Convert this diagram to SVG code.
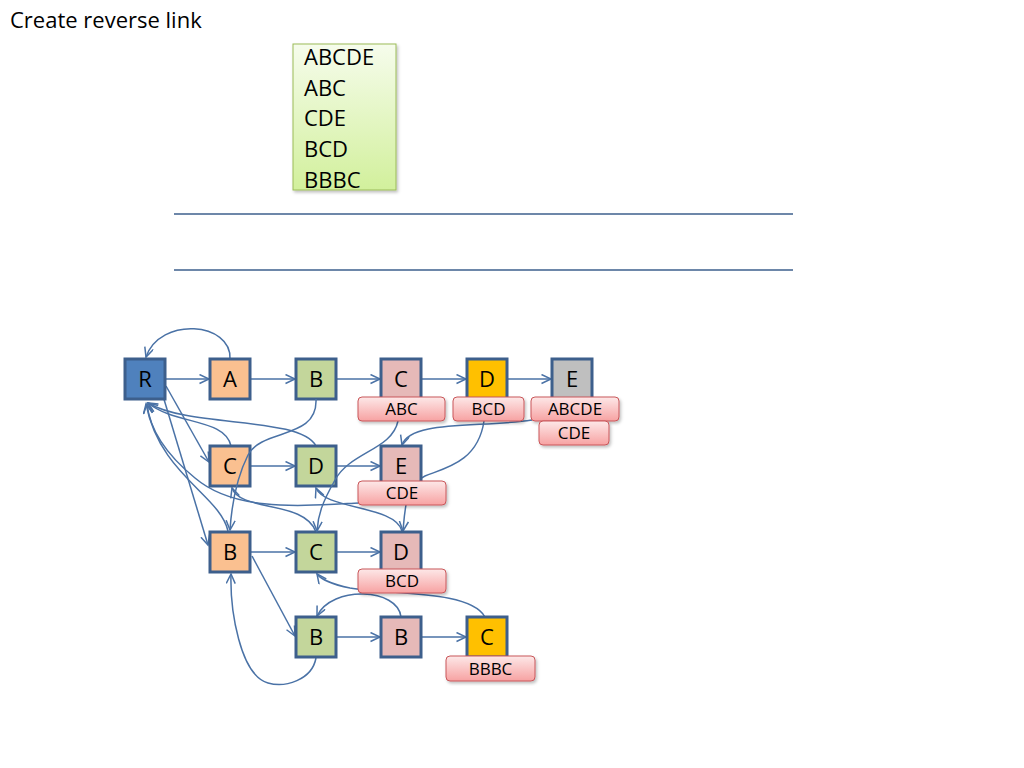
<svg xmlns="http://www.w3.org/2000/svg" width="1024" height="768" viewBox="0 0 1024 768">
  <defs>
    <marker id="arr" markerWidth="12" markerHeight="12" refX="10" refY="5" orient="auto" markerUnits="userSpaceOnUse">
      <path d="M0.5,0.5 L10,5 L0.5,9.5" fill="none" stroke="#4a72a6" stroke-width="1.5"/>
    </marker>
    <linearGradient id="gBox" x1="0" y1="0" x2="0" y2="1">
      <stop offset="0" stop-color="#f6fcec"/>
      <stop offset="1" stop-color="#d2f09c"/>
    </linearGradient>
    <linearGradient id="gTag" x1="0" y1="0" x2="0" y2="1">
      <stop offset="0" stop-color="#fde8e8"/>
      <stop offset="1" stop-color="#f7a2a2"/>
    </linearGradient>
    <filter id="sh" x="-10%" y="-10%" width="130%" height="130%">
      <feDropShadow dx="1.5" dy="2" stdDeviation="1.5" flood-color="#000" flood-opacity="0.25"/>
    </filter>
  </defs>
  <style>
    .t { font-family: "Open Sans", "Liberation Sans", sans-serif; fill: #000; }
    .n rect { stroke: #3d5f8c; stroke-width: 3; }
    .n text { font-family: "Open Sans", "Liberation Sans", sans-serif; font-size: 22px; text-anchor: middle; }
    .tag rect { fill: url(#gTag); stroke: #c9575a; stroke-width: 1; filter: url(#sh); }
    .tag text { font-family: "Open Sans", "Liberation Sans", sans-serif; font-size: 17px; text-anchor: middle; }
    .c path { fill: none; stroke: #4a72a6; stroke-width: 1.5; }
    .rule { stroke: #3d5f8c; stroke-width: 1.3; }
  </style>

  <rect width="1024" height="768" fill="#fff"/>

  <text class="t" x="10" y="28" font-size="22">Create reverse link</text>

  <!-- pattern list -->
  <g id="patterns">
    <rect x="293" y="44" width="103" height="146" fill="url(#gBox)" stroke="#9bbb59" stroke-width="1" filter="url(#sh)"/>
    <text class="t" x="304" y="65" font-size="22">ABCDE</text>
    <text class="t" x="304" y="96" font-size="22">ABC</text>
    <text class="t" x="304" y="126" font-size="22">CDE</text>
    <text class="t" x="304" y="157" font-size="22">BCD</text>
    <text class="t" x="304" y="188" font-size="22">BBBC</text>
  </g>

  <line class="rule" x1="174" y1="214" x2="793" y2="214"/>
  <line class="rule" x1="174" y1="270" x2="793" y2="270"/>

  <!-- links drawn beneath the nodes -->
  <g id="connectors" class="c">
    <!-- trie edges -->
    <path d="M165,379 H209" marker-end="url(#arr)"/>
    <path d="M250,379 H295" marker-end="url(#arr)"/>
    <path d="M336,379 H380" marker-end="url(#arr)"/>
    <path d="M421,379 H466" marker-end="url(#arr)"/>
    <path d="M507,379 H551" marker-end="url(#arr)"/>
    <path d="M250,466 H295" marker-end="url(#arr)"/>
    <path d="M336,466 H380" marker-end="url(#arr)"/>
    <path d="M250,552 H295" marker-end="url(#arr)"/>
    <path d="M336,552 H380" marker-end="url(#arr)"/>
    <path d="M336,637 H380" marker-end="url(#arr)"/>
    <path d="M421,637 H466" marker-end="url(#arr)"/>
    <path d="M166,386 L209,462" marker-end="url(#arr)"/>
    <path d="M163,396 L208,545" marker-end="url(#arr)"/>
    <path d="M252,556 L295,636" marker-end="url(#arr)"/>
    <!-- reverse links -->
    <path d="M230,359 C232,322 160,316 146,357" marker-end="url(#arr)"/>
    <path d="M484,421 C478,462 445,468 425,476 C405,485 405,510 403,531" marker-end="url(#arr)"/>
    <path d="M532,420 C480,428 410,420 402,445" marker-end="url(#arr)"/>
    <path d="M231,446 C225,418 175,425 148,403" marker-end="url(#arr)"/>
    <path d="M316,446 C300,416 190,428 148,403" marker-end="url(#arr)"/>
    <path d="M359,503 C300,506 235,512 195,478 C168,456 150,432 147,404" marker-end="url(#arr)"/>
    <path d="M228,531 C220,495 160,475 146,404" marker-end="url(#arr)"/>
    <path d="M316,532 C305,500 240,512 232,488" marker-end="url(#arr)"/>
    <path d="M402,531 C395,505 325,510 316,488" marker-end="url(#arr)"/>
    <path d="M316,658 C312,680 285,688 268,683 C240,675 230,610 231,574" marker-end="url(#arr)"/>
    <path d="M401,617 C398,588 332,585 317,616" marker-end="url(#arr)"/>
    <path d="M485,617 C470,590 390,595 350,588 C330,584 320,578 317,574" marker-end="url(#arr)"/>
  </g>

  <!-- trie nodes -->
  <g id="node-R" class="n"><rect x="125" y="359" width="40" height="40" fill="#4f81bd"/><text x="145" y="387">R</text></g>
  <g id="node-A" class="n"><rect x="210" y="359" width="40" height="40" fill="#fac090"/><text x="230" y="387">A</text></g>
  <g id="node-AB" class="n"><rect x="296" y="359" width="40" height="40" fill="#c3d69b"/><text x="316" y="387">B</text></g>
  <g id="node-ABC" class="n"><rect x="381" y="359" width="40" height="40" fill="#e6b9b8"/><text x="401" y="387">C</text></g>
  <g id="node-ABCD" class="n"><rect x="467" y="359" width="40" height="40" fill="#ffc000"/><text x="487" y="387">D</text></g>
  <g id="node-ABCDE" class="n"><rect x="552" y="359" width="40" height="40" fill="#bfbfbf"/><text x="572" y="387">E</text></g>

  <g id="node-C" class="n"><rect x="210" y="446" width="40" height="40" fill="#fac090"/><text x="230" y="474">C</text></g>
  <g id="node-CD" class="n"><rect x="296" y="446" width="40" height="40" fill="#c3d69b"/><text x="316" y="474">D</text></g>
  <g id="node-CDE" class="n"><rect x="381" y="446" width="40" height="40" fill="#e6b9b8"/><text x="401" y="474">E</text></g>

  <g id="node-B" class="n"><rect x="210" y="532" width="40" height="40" fill="#fac090"/><text x="230" y="560">B</text></g>
  <g id="node-BC" class="n"><rect x="296" y="532" width="40" height="40" fill="#c3d69b"/><text x="316" y="560">C</text></g>
  <g id="node-BCD" class="n"><rect x="381" y="532" width="40" height="40" fill="#e6b9b8"/><text x="401" y="560">D</text></g>

  <g id="node-BB" class="n"><rect x="296" y="617" width="40" height="40" fill="#c3d69b"/><text x="316" y="645">B</text></g>
  <g id="node-BBB" class="n"><rect x="381" y="617" width="40" height="40" fill="#e6b9b8"/><text x="401" y="645">B</text></g>
  <g id="node-BBBC" class="n"><rect x="467" y="617" width="40" height="40" fill="#ffc000"/><text x="487" y="645">C</text></g>

  <!-- links that run across node boxes -->
  <g id="connectors-over" class="c">
    <path d="M316,399 C318,440 262,428 248,455 C238,475 232,500 230,530" marker-end="url(#arr)"/>
    <path d="M398,421 C392,450 350,452 335,480 C322,503 318,515 317,531" marker-end="url(#arr)"/>
  </g>

  <!-- output tags -->
  <g id="tag-ABC" class="tag"><rect x="358" y="397" width="87" height="24" rx="4"/><text x="401.5" y="415">ABC</text></g>
  <g id="tag-BCD1" class="tag"><rect x="453" y="397" width="71" height="24" rx="4"/><text x="488.5" y="415">BCD</text></g>
  <g id="tag-ABCDE" class="tag"><rect x="531" y="397" width="88" height="24" rx="4"/><text x="575" y="415">ABCDE</text></g>
  <g id="tag-CDE1" class="tag"><rect x="539" y="421" width="70" height="24" rx="4"/><text x="574" y="439">CDE</text></g>
  <g id="tag-CDE2" class="tag"><rect x="358" y="481" width="88" height="24" rx="4"/><text x="402" y="499">CDE</text></g>
  <g id="tag-BCD2" class="tag"><rect x="358" y="569" width="88" height="24" rx="4"/><text x="402" y="587">BCD</text></g>
  <g id="tag-BBBC" class="tag"><rect x="446" y="656" width="89" height="25" rx="4"/><text x="490.5" y="675">BBBC</text></g>
</svg>
